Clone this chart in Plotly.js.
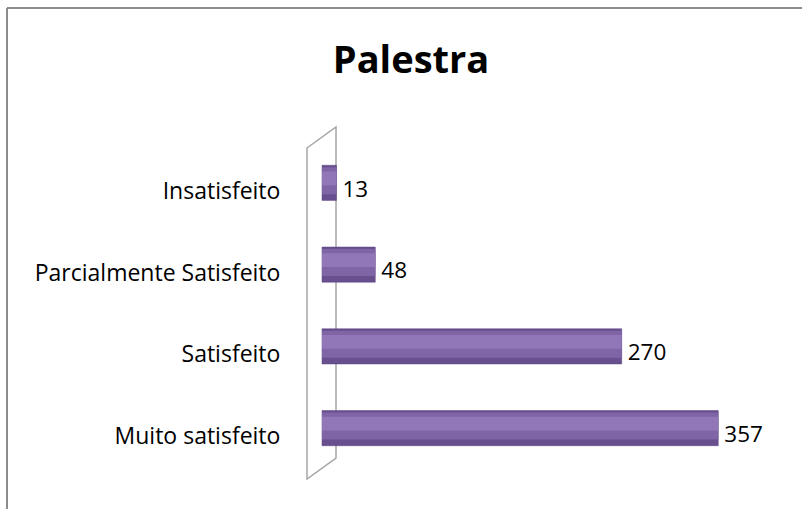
<!DOCTYPE html>
<html>
<head>
<meta charset="utf-8">
<script src="https://cdn.plot.ly/plotly-3.0.1.min.js"></script>
<style>html,body{margin:0;padding:0;background:#fff;}#chart{width:802px;height:509px;}</style>
</head>
<body>
<div id="chart"></div>
<script>
// Data (bottom to top)
const categories = ["Muito satisfeito", "Satisfeito", "Parcialmente Satisfeito", "Insatisfeito"];
const values = [357, 270, 48, 13];
const chartTitle = "Palestra";

// layout geometry (pixels)
const W = 802, H = 509;
const mL = 320, mR = 34, mT = 150, mB = 32;
const pw = W - mL - mR, ph = H - mT - mB;
const px = x => (x - mL) / pw;
const py = y => (H - mB - y) / ph;
const pxPerUnit = 1.11;
const x0 = -2 / pxPerUnit;
const lift = 0.098; // bars sit slightly above their category label (3D look)

const grey = "#8c8c8c";
const shapes = [
  // outer chart border (top + left)
  {type:"line", xref:"paper", yref:"paper", x0:px(7), y0:py(8), x1:px(W+5), y1:py(8), line:{color:grey, width:2}},
  {type:"line", xref:"paper", yref:"paper", x0:px(7), y0:py(8), x1:px(7), y1:py(H+5), line:{color:grey, width:2}},
  // 3D side wall
  {type:"path", xref:"paper", yref:"paper",
   path:`M ${px(307)} ${py(148)} L ${px(336)} ${py(127)} L ${px(336)} ${py(458)} L ${px(307)} ${py(479)} Z`,
   line:{color:"#a6a6a6", width:1.5}, fillcolor:"rgba(0,0,0,0)", layer:"below"}
];

const font = "Open Sans, sans-serif";
const base = {
  type:"bar", orientation:"h", y:categories, x:values,
  marker:{color:"#684f8e", line:{color:"#5a4380", width:0.5}},
  width:0.43, offset:-0.215 + lift,
  hoverinfo:"x+y", showlegend:false
};
const mid = {
  type:"bar", orientation:"h", y:categories, x:values,
  marker:{color:"#7f64a6"}, width:0.33, offset:-0.14 + lift,
  hoverinfo:"skip", showlegend:false
};
const highlight = {
  type:"bar", orientation:"h", y:categories, x:values,
  marker:{color:"#9177b8"}, width:0.17, offset:-0.03 + lift,
  hoverinfo:"skip", showlegend:false
};
const labels = {
  type:"scatter", mode:"markers+text", y:categories, x:values,
  marker:{size:8, color:"rgba(0,0,0,0)"},
  text:values.map(String), textposition:"middle right",
  textfont:{family:font, size:22.5, color:"#000"},
  cliponaxis:false, hoverinfo:"skip", showlegend:false
};

const layout = {
  width:W, height:H,
  margin:{l:mL, r:mR, t:mT, b:mB},
  paper_bgcolor:"#fff", plot_bgcolor:"rgba(0,0,0,0)",
  barmode:"overlay",
  title:{text:"<b>"+chartTitle+"</b>", x:411/W, xref:"container", xanchor:"center",
         y:1-60/H, yref:"container", yanchor:"middle",
         font:{family:font, size:38, color:"#000"}},
  xaxis:{range:[x0, x0 + pw / pxPerUnit], visible:false, fixedrange:true},
  yaxis:{type:"category", range:[-0.5,3.5], showgrid:false, zeroline:false, showline:false,
         ticks:"outside", ticklen:34, tickcolor:"rgba(0,0,0,0)",
         tickfont:{family:font, size:23, color:"#000"}},
  shapes:shapes
};

Plotly.newPlot("chart", [base, mid, highlight, labels], layout, {displayModeBar:false, staticPlot:true});
</script>
</body>
</html>
